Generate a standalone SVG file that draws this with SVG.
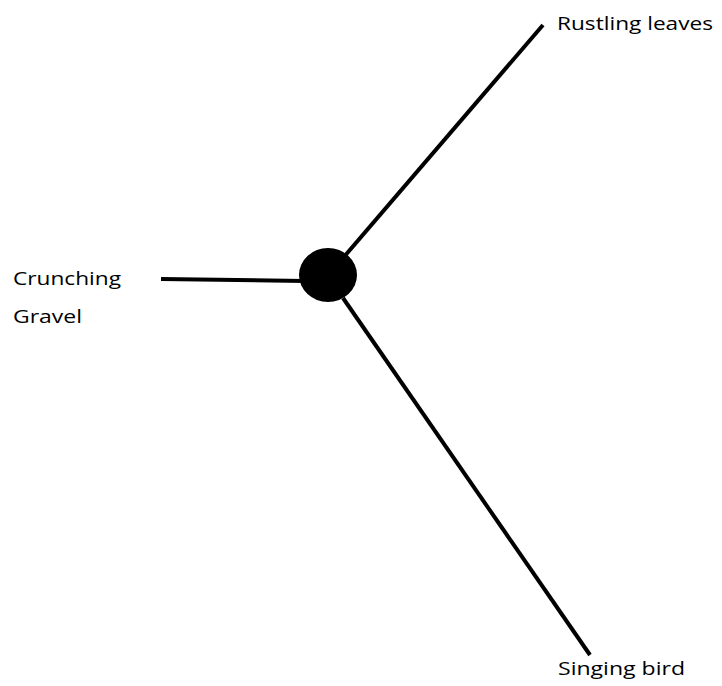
<svg xmlns="http://www.w3.org/2000/svg" width="722" height="686" viewBox="0 0 722 686">
<style>
.lbl{font-family:"Open Sans","Liberation Sans",sans-serif;font-size:19px;fill:#000}
.c{stroke:#000;stroke-width:4;fill:none}
</style>
<rect width="722" height="686" fill="#fff"/>
<g id="connectors">
<line class="c" x1="161" y1="279" x2="305" y2="281"/>
<line class="c" x1="343" y1="258" x2="543" y2="25"/>
<line class="c" x1="343" y1="298" x2="590" y2="655"/>
</g>
<g id="hub"><ellipse cx="328" cy="275" rx="29" ry="27" fill="#000"/></g>
<g id="rustling"><text class="lbl" x="557" y="30" textLength="156" lengthAdjust="spacingAndGlyphs">Rustling leaves</text></g>
<g id="crunching"><text class="lbl" x="13" y="285" textLength="108" lengthAdjust="spacingAndGlyphs">Crunching</text><text class="lbl" x="13" y="323" textLength="69" lengthAdjust="spacingAndGlyphs">Gravel</text></g>
<g id="singing"><text class="lbl" x="558" y="675" textLength="127" lengthAdjust="spacingAndGlyphs">Singing bird</text></g>
</svg>
